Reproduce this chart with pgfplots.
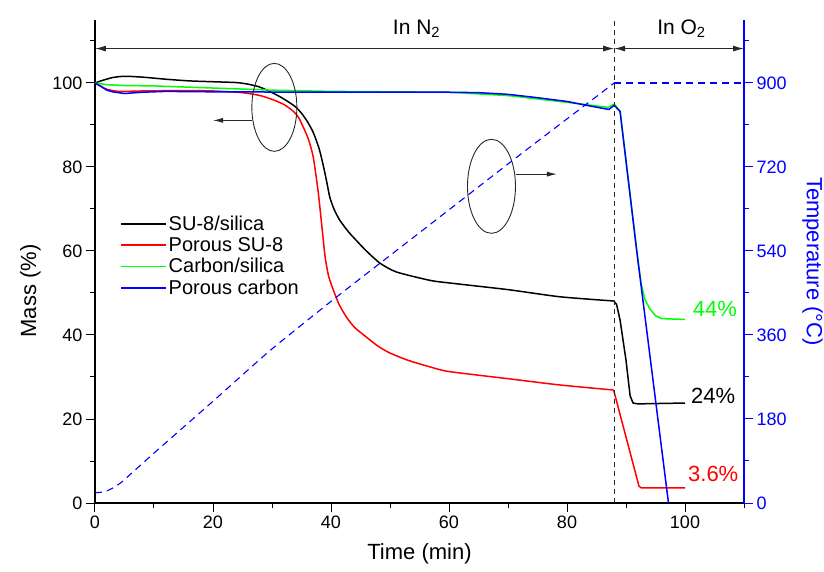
\documentclass[border=0pt]{standalone}
\usepackage{fontspec}
\setmainfont{Liberation Sans}
\usepackage{pgfplots}
\pgfplotsset{compat=1.18}
\usetikzlibrary{arrows.meta}

\definecolor{annot}{RGB}{40,40,40}

\begin{document}
\begin{tikzpicture}
\pgfplotsset{
  every axis/.append style={
    scale only axis,
    width=649bp, height=483bp,
    xmin=0, xmax=110,
    tick align=outside,
    major tick length=9bp,
    minor tick length=5bp,
    /pgf/number format/assume math mode=true,
    ticklabel style={font=\fontsize{18bp}{20bp}\selectfont},
    label style={font=\fontsize{22bp}{24bp}\selectfont},
  },
}
\begin{axis}[
    axis x line*=bottom,
    axis y line*=left,
    axis line style={line width=1.2bp},
    every tick/.append style={line width=1bp, black},
    ymin=0, ymax=115,
    xtick={0,20,40,60,80,100},
    minor xtick={10,30,50,70,90,110},
    ytick={0,20,40,60,80,100},
    minor ytick={10,30,50,70,90,110},
    xlabel={Time (min)},
    xlabel style={yshift=-8bp},
    ylabel={Mass (\%)},
    ylabel style={at={(ticklabel cs:0.439)}, yshift=5bp},
    clip=false,
    legend cell align=left,
    legend style={draw=none, fill=none, at={(rel axis cs:0.034,0.603)}, anchor=north west,
      font=\fontsize{20bp}{22bp}\selectfont, row sep=1.5bp},
    legend image code/.code={\draw[#1] (0bp,0bp) -- (45bp,0bp);},
]
\coordinate (ll) at (rel axis cs:0,0);

\addlegendimage{black, line width=1.5bp}
\addlegendentry{SU-8/silica}
\addlegendimage{red, line width=1.5bp}
\addlegendentry{Porous SU-8}
\addlegendimage{green, line width=1.5bp}
\addlegendentry{Carbon/silica}
\addlegendimage{blue, line width=1.5bp}
\addlegendentry{Porous carbon}

% SU-8/silica
\addplot[black, line width=1.5bp, smooth, tension=0.4, forget plot] coordinates {
(0,100) (1,100.5) (3,101.3) (5,101.6) (8,101.4) (12,100.9) (16,100.5) (20,100.3)
(24,100.1) (26,99.7) (28,99.0) (30,97.7) (31,97.0) (32,96.2) (33,95.3) (34,94.3)
(35,92.8) (36,90.8) (37,88.2) (38,84.3) (38.7,80.3) (39.3,76.3) (39.8,72.8)
(40.5,70.0) (41.5,67.3) (43,64.5) (44.3,62.5) (46,60.0) (48.3,57.1) (51.1,55.0)
(56.8,53.0) (60,52.4) (70,50.8) (78.8,49.1) (87.9,48.1)
};
\addplot[black, line width=1.5bp, forget plot] coordinates {
(87.9,48.1) (88.4,47.3) (89,43.5) (90,34) (90.7,25.5) (91.2,23.8) (92,23.6) (100,23.8)
};
% Porous SU-8
\addplot[red, line width=1.5bp, smooth, tension=0.4, forget plot] coordinates {
(0,100) (1,99.2) (2,98.5) (4,98.0) (8,98.1) (15,98.2) (20,98.1) (25,97.7) (28,97.0)
(30,96.1) (32,94.9) (33.6,93.3) (34.5,91.8) (35.3,89.5) (36.2,86.5) (37,82.3)
(37.8,74.4) (38.4,66.6) (39,58.6) (39.6,54.0) (40.4,50.7) (41.4,47.2) (42.6,44.3)
(44,41.8) (46,39.5) (48,37.3) (50,35.7) (53,34.0) (56.8,32.4) (60,31.3)
(70,29.6) (78.8,28.1) (87.9,26.9)
};
\addplot[red, line width=1.5bp, forget plot] coordinates {
(87.9,26.9) (92.2,4.0) (92.6,3.6) (100,3.6)
};
% Carbon/silica
\addplot[green, line width=1.5bp, forget plot] coordinates {
(0,100) (2,99.6) (5,99.4) (10,99.3) (20,98.8) (30,98.3) (40,98.0) (60,97.8) (70,97.0)
(80,95.4) (87,94.2) (88,95.0) (89,93.3) (92.1,57) (92.6,52) (93.2,48.5) (94,46.3)
(95,44.6) (96,43.9) (100,43.7)
};
% Porous carbon
\addplot[blue, line width=1.5bp, forget plot] coordinates {
(0,100) (1,99.2) (2,98.3) (3,97.9) (5,97.5) (8,97.8) (12,98.0) (20,97.9) (40,97.8)
(60,97.8) (65,97.7) (70,97.3) (75,96.5) (80,95.6) (84,94.5) (87.1,93.7) (88,94.7)
(89,93.2) (91.8,60.2) (97.2,0)
};

% annotations
\draw[annot, line width=1bp, dash pattern=on 5bp off 4bp] (axis cs:88,0) -- (axis cs:88,115);
\draw[annot, line width=1bp, {Latex[length=11bp,width=6bp]}-{Latex[length=11bp,width=6bp]}]
  (axis cs:0,108.2) -- (axis cs:88,108.2);
\draw[annot, line width=1bp, {Latex[length=11bp,width=6bp]}-{Latex[length=11bp,width=6bp]}]
  (axis cs:88,108.2) -- (axis cs:110,108.2);
\node[anchor=base, font=\fontsize{21bp}{23bp}\selectfont] at (axis cs:54.5,111.5) {In N\textsubscript{2}};
\node[anchor=base, font=\fontsize{21bp}{23bp}\selectfont] at (axis cs:99.4,111.5) {In O\textsubscript{2}};

\draw[annot, line width=0.9bp] (axis cs:30.4,94.2) ellipse [x radius=22.5bp, y radius=44bp];
\draw[annot, line width=0.9bp, -{Latex[length=10bp,width=5bp]}] (axis cs:26.6,91.1) -- (axis cs:20,91.1);
\draw[annot, line width=0.9bp] (axis cs:67.2,75.4) ellipse [x radius=24bp, y radius=47bp];
\draw[annot, line width=0.9bp, -{Latex[length=10bp,width=5bp]}] (axis cs:71.3,78.3) -- (axis cs:78.3,78.3);

\node[anchor=base west, text=green, font=\fontsize{22bp}{24bp}\selectfont, inner sep=0pt] at (axis cs:101.3,44.3) {44\%};
\node[anchor=base west, text=black, font=\fontsize{22bp}{24bp}\selectfont, inner sep=0pt] at (axis cs:101.0,23.7) {24\%};
\node[anchor=base west, text=red, font=\fontsize{22bp}{24bp}\selectfont, inner sep=0pt] at (axis cs:100.5,5.1) {3.6\%};
\end{axis}

\begin{axis}[
    hide x axis,
    axis y line*=right,
    axis line style={line width=1.2bp, blue},
    every tick/.append style={line width=1bp, blue},
    yticklabel style={text=blue},
    ymin=0, ymax=1035,
    ytick={0,180,360,540,720,900},
    minor ytick={90,270,450,630,810,990},
    ylabel={Temperature (°C)},
    ylabel style={text=blue, rotate=180, yshift=9bp},
]
\addplot[blue, line width=1.1bp, dash pattern=on 7bp off 5bp, smooth, tension=0.3] coordinates {
(0,22) (1,23) (2,26) (3,32) (4,40) (4.9,49) (10,107) (20,218) (29.7,327) (41,442)
(56.2,591) (72,746) (88,900)
};
\addplot[blue, line width=1.1bp, dash pattern=on 7bp off 5bp] coordinates {
(88,900) (110,900)
};
\end{axis}
\pgfresetboundingbox
\path ([shift={(-95bp,-69bp)}]ll) rectangle ([shift={(729bp,503bp)}]ll);
\end{tikzpicture}
\end{document}
